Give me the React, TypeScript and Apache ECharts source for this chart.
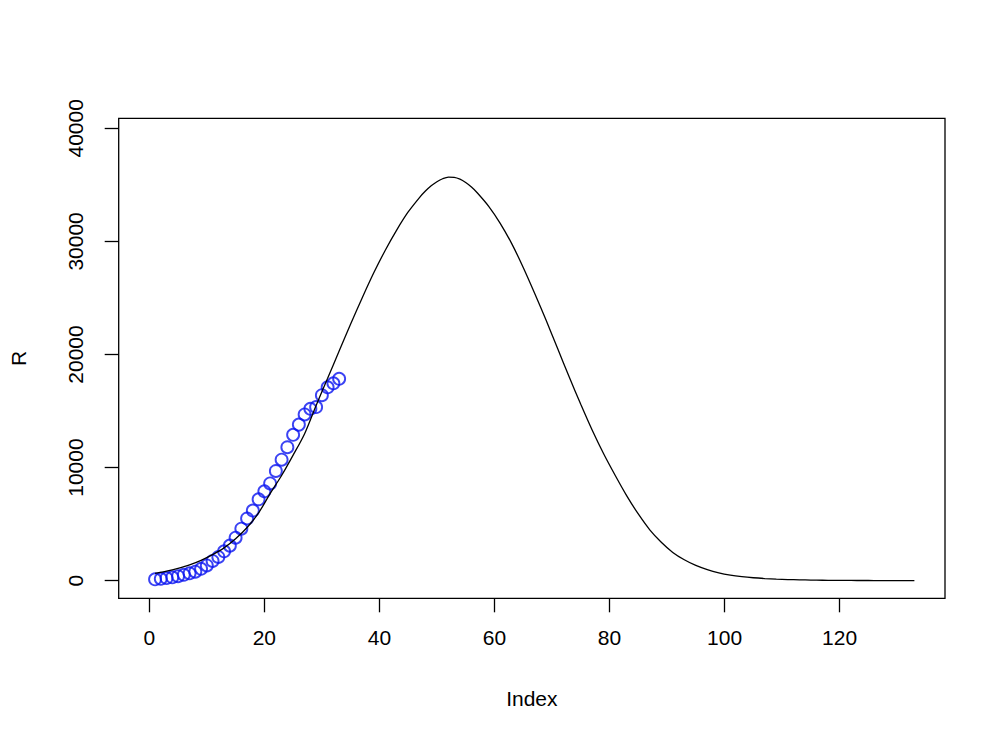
import { useRef, useEffect } from 'react'
import * as echarts from 'echarts'

// observed points (blue circles), index 1..33
const pointIndex = [
  1, 2, 3, 4, 5, 6, 7, 8, 9, 10, 11, 12, 13, 14, 15, 16, 17, 18, 19, 20, 21,
  22, 23, 24, 25, 26, 27, 28, 29, 30, 31, 32, 33,
]
const pointValues = [
  120, 170, 230, 300, 400, 520, 650, 800, 1050, 1350, 1750, 2100, 2600, 3100,
  3800, 4600, 5500, 6200, 7200, 7900, 8600, 9700, 10700, 11800, 12900, 13800,
  14700, 15200, 15350, 16400, 17100, 17450, 17850,
]

// fitted curve (black line)
const curveIndex = [
  1, 3, 5, 7, 9, 11, 13, 15, 17, 19, 21, 23, 25, 27, 29, 31, 33, 35, 37, 39,
  41, 43, 45, 47, 48, 49, 50, 51, 52, 53, 54, 55, 56, 57, 59, 61, 63, 65, 67,
  69, 71, 73, 75, 77, 79, 81, 83, 85, 87, 89, 91, 93, 95, 97, 99, 101, 103, 105,
  107, 109, 111, 113, 115, 117, 119, 121, 123, 125, 127, 129, 131, 133,
]
const curveValues = [
  650, 850, 1100, 1400, 1800, 2300, 2900, 3700, 4700, 6000, 7700, 9300, 11100,
  13000, 15500, 17900, 20300, 22700, 25000, 27200, 29200, 31000, 32600, 33900,
  34450, 34920, 35280, 35540, 35680, 35660, 35500, 35200, 34800, 34300, 33100,
  31600, 29800, 27700, 25400, 23000, 20500, 18000, 15600, 13300, 11200, 9300,
  7500, 5900, 4500, 3400, 2500, 1850, 1350, 980, 700, 500, 360, 260, 190, 140,
  100, 75, 55, 42, 32, 25, 20, 16, 13, 11, 9, 8,
]

const xTicks = [0, 20, 40, 60, 80, 100, 120]
const yTicks = [0, 10000, 20000, 30000, 40000]

const FONT = '"Liberation Sans", Arial, Helvetica, sans-serif'

export default function App() {
  const chartRef = useRef<HTMLDivElement>(null)

  useEffect(() => {
    if (!chartRef.current) return
    const chart = echarts.init(chartRef.current, undefined, { renderer: 'svg' })

    const option = {
      animation: false,
      backgroundColor: '#fff',
      grid: {
        left: 118.7,
        top: 118.3,
        right: 61,
        bottom: 147.7,
        show: true,
        borderColor: '#000',
        borderWidth: 1.3,
        backgroundColor: 'transparent',
        containLabel: false,
        outerBoundsMode: 'none',
      },
      xAxis: {
        type: 'value',
        min: -5.32,
        max: 138.32,
        name: 'Index',
        nameLocation: 'middle',
        nameGap: 90,
        nameTextStyle: { color: '#000', fontSize: 21, fontFamily: FONT },
        axisLine: { show: false, onZero: false },
        axisTick: {
          show: true,
          inside: false,
          length: 14,
          lineStyle: { color: '#000', width: 1.3 },
          customValues: xTicks,
        },
        axisLabel: {
          color: '#000',
          fontSize: 21,
          fontFamily: FONT,
          margin: 29,
          customValues: xTicks,
          formatter: (v: number) => String(v),
        },
        splitLine: { show: false },
      },
      yAxis: {
        type: 'value',
        min: -1556,
        max: 40884,
        name: 'R',
        nameLocation: 'middle',
        nameGap: 90,
        nameRotate: 90,
        nameTextStyle: { color: '#000', fontSize: 21, fontFamily: FONT },
        axisLine: { show: false, onZero: false },
        axisTick: {
          show: true,
          inside: false,
          length: 14,
          lineStyle: { color: '#000', width: 1.3 },
          customValues: yTicks,
        },
        axisLabel: {
          color: '#000',
          fontSize: 21,
          fontFamily: FONT,
          rotate: 90,
          margin: 33,
          customValues: yTicks,
          formatter: (v: number) => String(v),
        },
        splitLine: { show: false },
      },
      series: [
        {
          type: 'scatter',
          data: pointIndex.map((x, i) => [x, pointValues[i]]),
          symbol: 'circle',
          symbolSize: 12,
          itemStyle: {
            color: 'rgba(0,0,0,0)',
            borderColor: '#0a14f0',
            borderWidth: 1.9,
          },
          z: 2,
        },
        {
          type: 'line',
          data: curveIndex.map((x, i) => [x, curveValues[i]]),
          symbol: 'none',
          smooth: 0.3,
          lineStyle: { color: '#000', width: 1.3 },
          z: 3,
        },
      ],
    }

    chart.setOption(option as echarts.EChartsOption)
    return () => {
      chart.dispose()
    }
  }, [])

  return (
    <div
      ref={chartRef}
      style={{ position: 'absolute', left: 0, top: 0, width: 1006, height: 746 }}
    />
  )
}
